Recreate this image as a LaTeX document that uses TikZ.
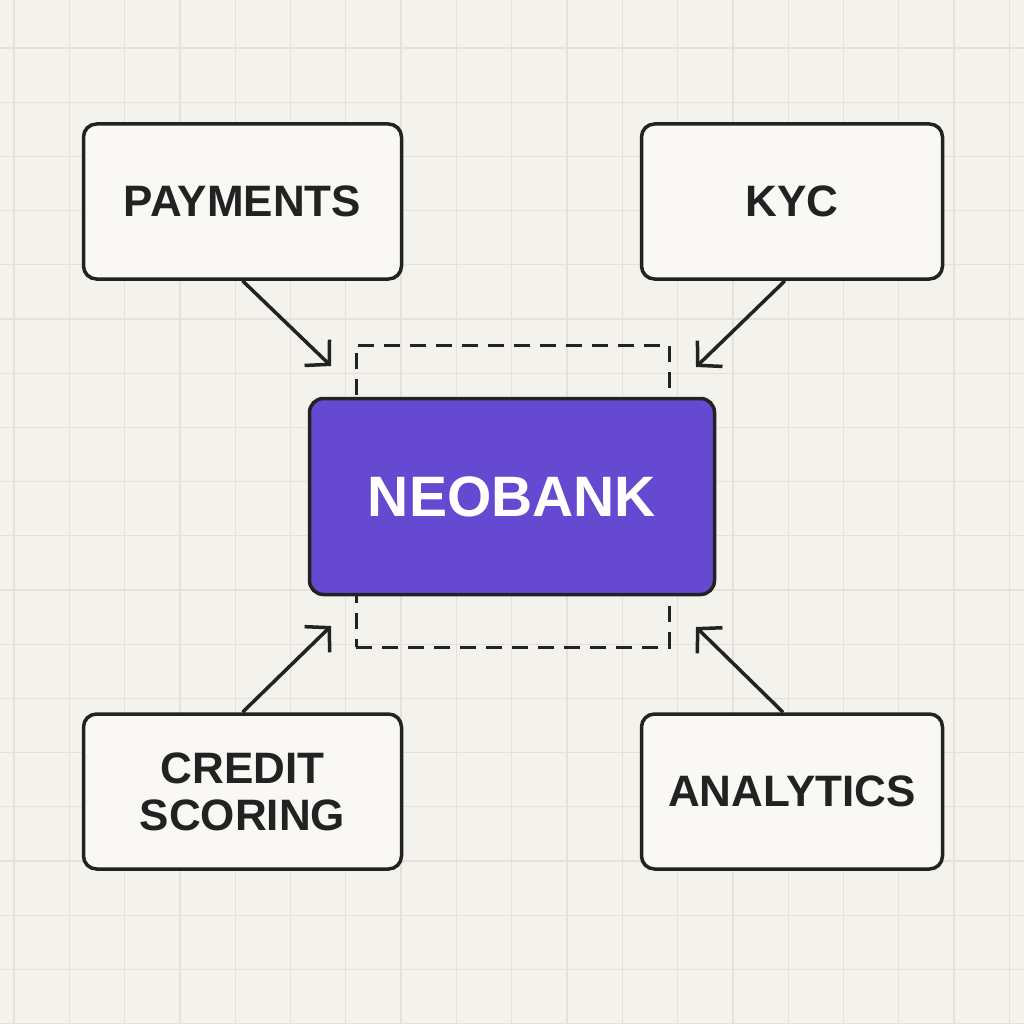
\documentclass[tikz,border=0pt]{standalone}
\usepackage{fontspec}
\setmainfont{Liberation Sans}
\usetikzlibrary{arrows.meta}
\definecolor{bg}{HTML}{F4F2EC}
\definecolor{gridc}{HTML}{E4E1DB}
\definecolor{ink}{HTML}{222222}
\definecolor{boxfill}{HTML}{F9F8F4}
\definecolor{neo}{HTML}{6549D0}
\tikzset{
  module/.style={draw=ink, fill=boxfill, line width=3.5pt, rounded corners=13pt,
    minimum height=155pt, inner sep=0pt,
    font=\fontsize{44}{47}\selectfont\bfseries, text=ink, align=center},
  wide/.style={minimum width=318pt},
  narrow/.style={minimum width=301pt},
  core/.style={draw=ink, fill=neo, line width=3.5pt, rounded corners=14pt,
    minimum width=405pt, minimum height=196pt, inner sep=0pt,
    font=\fontsize{57}{60}\selectfont\bfseries, text=white},
  frame/.style={draw=ink, line width=3pt, dash pattern=on 16pt off 10pt,
    minimum width=313pt, minimum height=302pt, inner sep=0pt},
  link/.style={draw=ink, line width=3.5pt, -{Straight Barb[length=17pt,width=36pt]}}
}
\begin{document}
\begin{tikzpicture}[x=1pt,y=-1pt]
\useasboundingbox (0,0) rectangle (1024,1024);
\fill[bg] (0,0) rectangle (1024,1024);
\foreach \k in {0,...,18} {
  \draw[gridc, line width=1.3pt] ({14+55.3*\k},0) -- ({14+55.3*\k},1024);
  \draw[gridc, line width=1.3pt] (0,{48+54.2*\k}) -- (1024,{48+54.2*\k});
}
\node[frame] (fr) at (512.5,496) {};
\node[core] (neo) at (512,496.5) {NEOBANK};
\node[module, wide] (pay) at (242.5,201.5) {PAYMENTS};
\node[module, narrow] (kyc) at (792,201.5) {KYC};
\node[module, wide] (cs) at (242.5,791.5) {CREDIT\\SCORING};
\node[module, narrow] (an) at (792,791.5) {ANALYTICS};
\coordinate (t1) at (331,366);
\coordinate (t2) at (696,367);
\coordinate (t3) at (331,626);
\coordinate (t4) at (696,627);
\draw[link] (pay.south) -- (t1);
\draw[link] (kyc.south -| 785,0) -- (t2);
\draw[link] (cs.north) -- (t3);
\draw[link] (an.north -| 783,0) -- (t4);
\end{tikzpicture}
\end{document}
